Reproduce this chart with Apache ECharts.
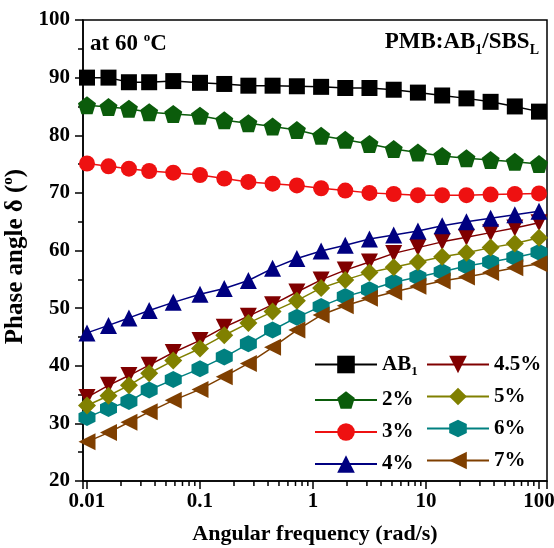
<!DOCTYPE html>
<html><head><meta charset="utf-8">
<script src="https://cdn.jsdelivr.net/npm/echarts@6/dist/echarts.min.js"></script>
<style>html,body{margin:0;padding:0;background:#fff}#c{width:554px;height:548px}</style>
</head><body><div id="c"></div>
<script>
const freq = [0.01, 0.0155, 0.0235, 0.0355, 0.058, 0.1, 0.164, 0.268, 0.439, 0.72, 1.18, 1.93, 3.16, 5.18, 8.48, 13.9, 22.8, 37.3, 61.1, 100];
const ab1 = [90.0, 90.0, 89.2, 89.2, 89.4, 89.1, 88.9, 88.6, 88.6, 88.5, 88.4, 88.2, 88.2, 87.9, 87.4, 86.9, 86.4, 85.8, 85.0, 84.1];
const p2  = [85.2, 84.9, 84.6, 84.0, 83.7, 83.4, 82.6, 82.1, 81.5, 80.9, 79.9, 79.2, 78.5, 77.6, 77.0, 76.4, 76.0, 75.7, 75.4, 75.0];
const p3  = [75.1, 74.6, 74.2, 73.8, 73.5, 73.1, 72.5, 71.9, 71.6, 71.3, 70.8, 70.4, 70.0, 69.8, 69.6, 69.6, 69.6, 69.7, 69.8, 69.9];
const p4  = [45.7, 47.0, 48.3, 49.6, 51.0, 52.4, 53.4, 54.8, 56.9, 58.6, 59.9, 60.9, 62.0, 62.7, 63.4, 64.3, 65.0, 65.6, 66.2, 66.8];
const p45 = [34.5, 36.6, 38.3, 40.1, 42.3, 44.4, 46.7, 48.6, 50.6, 52.8, 54.9, 56.6, 58.0, 59.5, 60.5, 61.5, 62.3, 63.1, 63.9, 64.8];
const p5  = [33.1, 34.8, 36.6, 38.7, 40.9, 43.0, 45.3, 47.4, 49.4, 51.3, 53.5, 54.9, 56.2, 57.1, 58.0, 58.9, 59.6, 60.5, 61.2, 62.2];
const p6  = [31.0, 32.6, 33.8, 35.8, 37.6, 39.5, 41.5, 43.8, 46.2, 48.4, 50.3, 52.0, 53.2, 54.5, 55.4, 56.3, 57.3, 58.0, 58.8, 59.7];
const p7  = [26.8, 28.4, 30.2, 32.0, 34.0, 35.9, 38.1, 40.4, 43.2, 46.2, 48.8, 50.4, 51.7, 52.8, 53.8, 54.7, 55.4, 56.2, 57.0, 57.7];
const xTickLabels = ['0.01', '0.1', '1', '10', '100'];
const xMinorTicks = [0.02,0.03,0.04,0.05,0.06,0.07,0.08,0.09,0.2,0.3,0.4,0.5,0.6,0.7,0.8,0.9,2,3,4,5,6,7,8,9,20,30,40,50,60,70,80,90];
const seriesNames = ['AB1', '2%', '3%', '4%', '4.5%', '5%', '6%', '7%'];

const FONT = '"Liberation Serif", "Times New Roman", serif';
const PENT = 'path://M0,-10 L9.51,-3.09 L5.88,8.09 L-5.88,8.09 L-9.51,-3.09 Z';
const HEX = 'path://M0,-10 L8.66,-5 L8.66,5 L0,10 L-8.66,5 L-8.66,-5 Z';

function mk(name, vals, color, symbol, size, rot, z) {
  return {
    name: name, type: 'line', data: freq.map((f, i) => [f, vals[i]]),
    symbol: symbol, symbolSize: size, symbolRotate: rot || 0, z: z,
    itemStyle: { color: color, opacity: 1 },
    lineStyle: { color: color, width: 1.5 },
    emphasis: { disabled: true }, animation: false
  };
}

const chart = echarts.init(document.getElementById('c'), null, { renderer: 'canvas' });
const legendCommon = {
  orient: 'vertical', itemWidth: 62, itemHeight: 22, itemGap: 11,
  textStyle: { fontFamily: FONT, fontWeight: 'bold', fontSize: 21, color: '#000',
    rich: { s: { fontFamily: FONT, fontWeight: 'bold', fontSize: 13, color: '#000', padding: [15, 0, 0, 0] } } },
  formatter: n => n === 'AB1' ? 'AB{s|1}' : n,
  symbolRotate: 'inherit'
};
chart.setOption({
  animation: false,
  backgroundColor: '#fff',
  grid: { left: 83, right: 7, top: 20, bottom: 67, outerBoundsMode: 'none', containLabel: false, show: true, borderColor: '#000', borderWidth: 1.5, backgroundColor: 'transparent' },
  xAxis: {
    type: 'log', logBase: 10, min: 0.00922, max: 117.7,
    name: 'Angular frequency (rad/s)', nameLocation: 'middle', nameGap: 42,
    nameTextStyle: { fontFamily: FONT, fontWeight: 'bold', fontSize: 22, color: '#000' },
    axisLine: { lineStyle: { color: '#000', width: 1.5 } },
    axisTick: { inside: false, length: 8, lineStyle: { color: '#000', width: 1.5 } },
    axisLabel: { fontFamily: FONT, fontWeight: 'bold', fontSize: 21, color: '#000', margin: 10,
      formatter: v => { const l = Math.log10(v); const r = Math.round(l); if (Math.abs(l - r) > 0.01) return ''; return xTickLabels[r + 2] || ''; } },
    splitLine: { show: false }
  },
  yAxis: {
    type: 'value', min: 20, max: 100, interval: 10,
    name: 'Phase angle δ ({sup|o})', nameLocation: 'middle', nameGap: 50, nameRotate: 90,
    nameTextStyle: { fontFamily: FONT, fontWeight: 'bold', fontSize: 25, color: '#000', padding: [0, 12, 0, 0],
      rich: { sup: { fontFamily: FONT, fontWeight: 'bold', fontSize: 15, color: '#000', padding: [0, 0, 13, 0] } } },
    axisLine: { show: true, lineStyle: { color: '#000', width: 1.5 } },
    axisTick: { inside: false, length: 8, lineStyle: { color: '#000', width: 1.5 } },
    minorTick: { show: true, splitNumber: 2, length: 5, lineStyle: { color: '#000', width: 1.5 } },
    axisLabel: { fontFamily: FONT, fontWeight: 'bold', fontSize: 21, color: '#000', margin: 13 },
    splitLine: { show: false }
  },
  legend: [
    Object.assign({ left: 309, top: 349, data: seriesNames.slice(0, 4) }, legendCommon),
    Object.assign({ left: 421, top: 349, data: seriesNames.slice(4) }, legendCommon)
  ],
  graphic: [
    { type: 'text', left: 90, top: 31, style: { text: 'at 60 {sup|o}C', fontFamily: FONT, fontWeight: 'bold', fontSize: 23, fill: '#000',
        rich: { sup: { fontFamily: FONT, fontWeight: 'bold', fontSize: 13, fill: '#000', padding: [0, 0, 13, 0] } } } },
    { type: 'text', right: 15, top: 31, style: { text: 'PMB:AB{s|1}/SBS{s|L}', fontFamily: FONT, fontWeight: 'bold', fontSize: 23, fill: '#000',
        rich: { s: { fontFamily: FONT, fontWeight: 'bold', fontSize: 14, fill: '#000', padding: [16, 0, 0, 0] } } } }
  ],
  series: [
    mk('AB1', ab1, '#000000', 'rect', 16, 0, 2),
    mk('2%', p2, '#0b5c0b', PENT, 18, 0, 3),
    mk('3%', p3, '#ee1111', 'circle', 16, 0, 4),
    mk('4.5%', p45, '#800000', 'triangle', 17, 180, 5),
    mk('6%', p6, '#008080', HEX, 17, 0, 6),
    mk('5%', p5, '#808000', 'diamond', 18, 0, 7),
    mk('7%', p7, '#7f3f00', 'triangle', 17, 90, 8),
    mk('4%', p4, '#000080', 'triangle', 17, 0, 9),
    {
      type: 'custom', silent: true, clip: false, z: 10,
      data: xMinorTicks.map(v => [v, 20]),
      encode: { x: 0, y: 1 },
      renderItem: (params, api) => {
        const p = api.coord([api.value(0), api.value(1)]);
        return { type: 'line', shape: { x1: p[0], y1: p[1], x2: p[0], y2: p[1] + 5 }, style: { stroke: '#000', lineWidth: 1.5 } };
      }
    }
  ]
});
</script></body></html>
